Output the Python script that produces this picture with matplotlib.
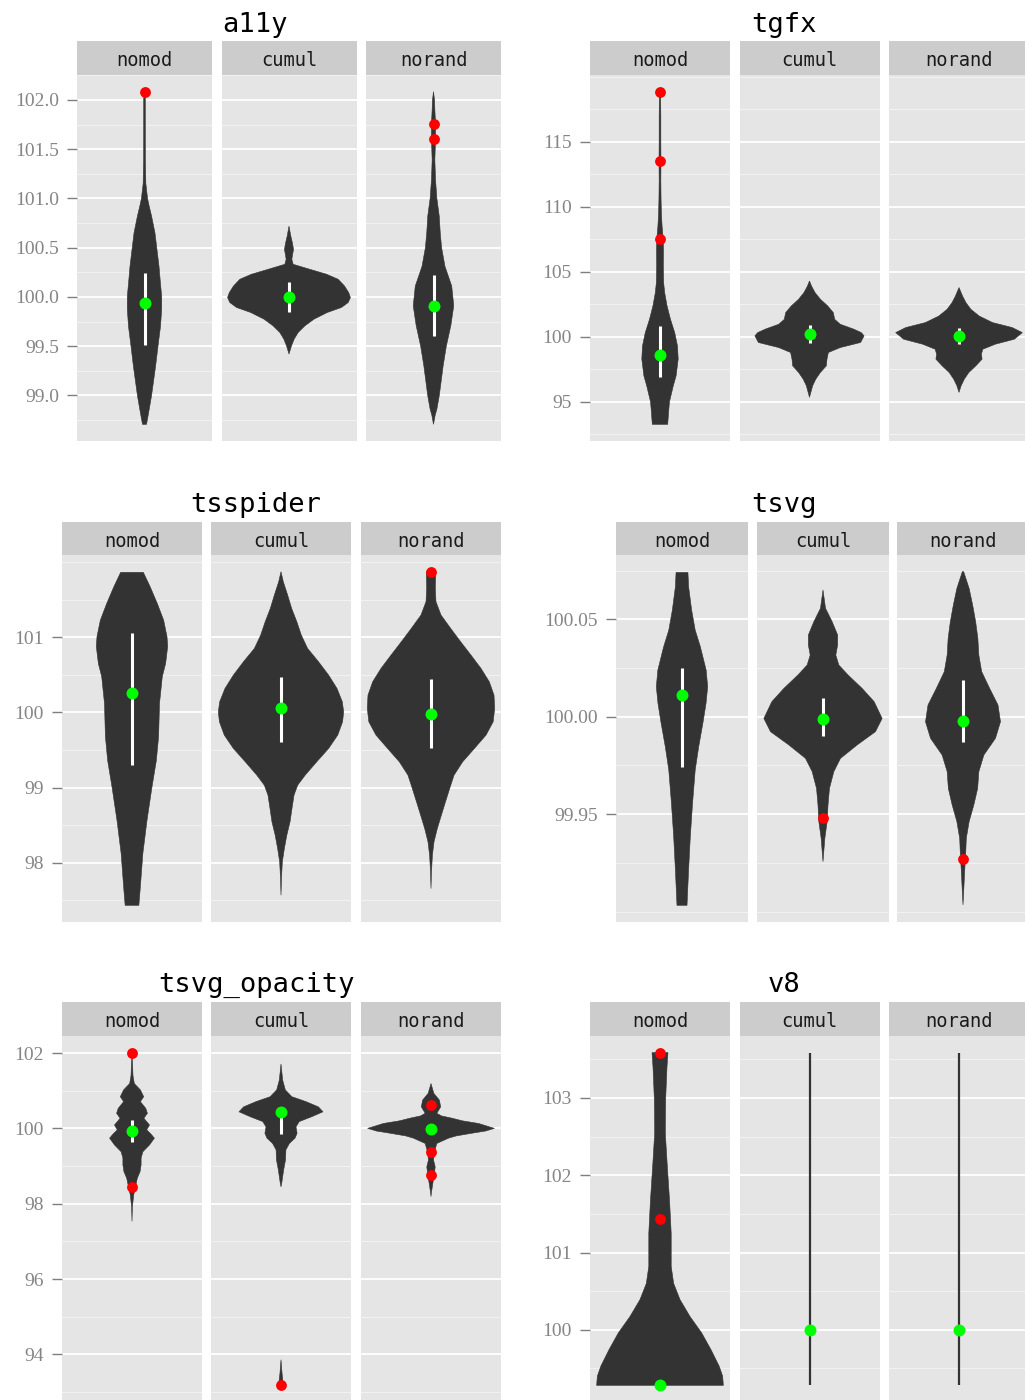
import numpy as np
import matplotlib
matplotlib.use("Agg")
import matplotlib.pyplot as plt

# ---------------------------------------------------------------- data
benchmarks = ["a11y", "tgfx", "tsspider", "tsvg", "tsvg_opacity", "v8"]
facets = ["nomod", "cumul", "norand"]

# violin outlines: (value, half-width as a fraction of the facet half-width)
a11y_nomod_profile = [(98.706, 0.03), (98.84, 0.065), (99.0, 0.105), (99.15, 0.135), (99.30, 0.165),
                      (99.50, 0.20), (99.70, 0.237), (99.88, 0.255), (100.0, 0.255), (100.15, 0.235),
                      (100.31, 0.215), (100.48, 0.185), (100.65, 0.155), (100.82, 0.105), (100.92, 0.07),
                      (101.0, 0.045), (101.15, 0.02), (101.4, 0.013), (101.8, 0.012), (102.0, 0.012),
                      (102.084, 0.006)]
a11y_cumul_profile = [(99.42, 0.0), (99.504, 0.037), (99.572, 0.077), (99.639, 0.136), (99.706, 0.235),
                      (99.774, 0.37), (99.842, 0.568), (99.893, 0.778), (99.943, 0.877), (99.994, 0.91),
                      (100.044, 0.884), (100.111, 0.822), (100.179, 0.728), (100.23, 0.556),
                      (100.28, 0.31), (100.331, 0.062), (100.382, 0.042), (100.432, 0.054),
                      (100.483, 0.067), (100.55, 0.05), (100.617, 0.027), (100.719, 0.0)]
a11y_norand_profile = [(98.706, 0.0), (98.80, 0.025), (98.86, 0.05), (99.0, 0.086), (99.30, 0.143),
                       (99.50, 0.19), (99.71, 0.257), (99.91, 0.30), (100.11, 0.27), (100.31, 0.17),
                       (100.50, 0.12), (100.65, 0.10), (100.82, 0.085), (101.0, 0.05), (101.19, 0.03),
                       (101.39, 0.02), (101.60, 0.03), (101.76, 0.03), (101.90, 0.02), (102.0, 0.015),
                       (102.084, 0.0)]

tgfx_nomod_profile = [(93.27, 0.11), (94.0, 0.12), (95.0, 0.135), (96.24, 0.19), (97.0, 0.23),
                      (98.3, 0.26), (99.3, 0.25), (100.33, 0.21), (101.35, 0.15), (102.4, 0.10),
                      (103.4, 0.067), (104.17, 0.052), (105.45, 0.048), (106.7, 0.05), (107.6, 0.045),
                      (108.5, 0.03), (109.5, 0.02), (110.6, 0.015), (112.0, 0.012), (113.5, 0.014),
                      (115.0, 0.012), (117.0, 0.012), (118.87, 0.008)]
tgfx_cumul_profile = [(95.35, 0.0), (96.24, 0.045), (96.75, 0.09), (97.26, 0.155), (97.77, 0.24),
                      (98.29, 0.25), (98.80, 0.27), (99.18, 0.44), (99.57, 0.73), (100.08, 0.78),
                      (100.33, 0.74), (100.60, 0.63), (100.97, 0.44), (101.35, 0.36), (101.87, 0.34),
                      (102.38, 0.26), (102.90, 0.155), (103.40, 0.08), (103.90, 0.03), (104.30, 0.0)]
tgfx_norand_profile = [(95.73, 0.0), (96.24, 0.03), (96.75, 0.076), (97.26, 0.14), (97.77, 0.24),
                       (98.29, 0.33), (98.67, 0.32), (99.05, 0.34), (99.44, 0.52), (99.82, 0.79),
                       (100.33, 0.905), (100.72, 0.76), (101.10, 0.48), (101.60, 0.29), (102.12, 0.17),
                       (102.63, 0.10), (103.15, 0.05), (103.80, 0.0)]

tsspider_nomod_profile = [(97.43, 0.098), (97.67, 0.119), (98.12, 0.155), (98.56, 0.214), (99.01, 0.286),
                          (99.36, 0.348), (99.68, 0.38), (100.12, 0.393), (100.48, 0.433), (100.65, 0.48),
                          (100.88, 0.51), (101.01, 0.50), (101.23, 0.452), (101.45, 0.362),
                          (101.68, 0.257), (101.867, 0.162)]
tsspider_cumul_profile = [(97.564, 0.0), (97.787, 0.007), (98.009, 0.019), (98.187, 0.048), (98.364, 0.083),
                          (98.542, 0.129), (98.72, 0.157), (98.898, 0.186), (99.031, 0.238),
                          (99.164, 0.345), (99.342, 0.51), (99.52, 0.68), (99.698, 0.81), (99.876, 0.88),
                          (100.009, 0.895), (100.142, 0.876), (100.32, 0.80), (100.498, 0.68),
                          (100.676, 0.536), (100.853, 0.38), (101.031, 0.29), (101.209, 0.226),
                          (101.387, 0.152), (101.564, 0.095), (101.742, 0.033), (101.876, 0.0)]
tsspider_norand_profile = [(97.653, 0.0), (97.876, 0.007), (98.098, 0.02), (98.276, 0.043), (98.453, 0.09),
                           (98.631, 0.148), (98.809, 0.207), (98.987, 0.267), (99.164, 0.329),
                           (99.342, 0.452), (99.52, 0.62), (99.698, 0.786), (99.876, 0.888),
                           (100.053, 0.91), (100.231, 0.90), (100.409, 0.833), (100.587, 0.714),
                           (100.764, 0.571), (100.942, 0.424), (101.12, 0.281), (101.298, 0.143),
                           (101.476, 0.071), (101.653, 0.062), (101.876, 0.067)]

tsvg_nomod_profile = [(99.9032, 0.076), (99.9214, 0.10), (99.9385, 0.126), (99.9556, 0.16),
                      (99.9726, 0.20), (99.9846, 0.253), (99.9966, 0.316), (100.0068, 0.364),
                      (100.0154, 0.389), (100.0239, 0.366), (100.0359, 0.278), (100.0444, 0.20),
                      (100.0547, 0.146), (100.0667, 0.10), (100.074, 0.09)]
tsvg_cumul_profile = [(99.9256, 0.0), (99.9376, 0.028), (99.9462, 0.063), (99.9547, 0.076),
                      (99.9632, 0.098), (99.9718, 0.164), (99.9786, 0.265), (99.9855, 0.518),
                      (99.9923, 0.795), (99.9991, 0.896), (100.0077, 0.775), (100.0145, 0.593),
                      (100.0214, 0.379), (100.0265, 0.24), (100.0316, 0.194), (100.0368, 0.222),
                      (100.0419, 0.222), (100.0487, 0.139), (100.0556, 0.038), (100.065, 0.0)]
tsvg_norand_profile = [(99.9034, 0.0), (99.912, 0.013), (99.9205, 0.025), (99.9291, 0.04),
                       (99.9376, 0.05), (99.9462, 0.093), (99.9547, 0.164), (99.9632, 0.222),
                       (99.9718, 0.24), (99.9803, 0.316), (99.9889, 0.492), (99.9974, 0.568),
                       (100.006, 0.53), (100.0145, 0.404), (100.0231, 0.283), (100.0316, 0.24),
                       (100.0402, 0.225), (100.0487, 0.192), (100.0573, 0.146), (100.0658, 0.093),
                       (100.0744, 0.01)]

tsvg_opacity_nomod_profile = [(97.53, 0.0), (97.92, 0.006), (98.23, 0.024), (98.45, 0.05), (98.68, 0.076),
                              (98.85, 0.115), (99.03, 0.13), (99.21, 0.13), (99.38, 0.155), (99.56, 0.25),
                              (99.74, 0.32), (99.85, 0.27), (99.96, 0.21), (100.09, 0.25), (100.20, 0.20),
                              (100.27, 0.17), (100.40, 0.22), (100.53, 0.197), (100.71, 0.12),
                              (100.84, 0.167), (101.02, 0.12), (101.19, 0.033), (101.40, 0.014),
                              (101.72, 0.008), (102.01, 0.0)]
tsvg_opacity_cumul_profile = [(93.18, 0.03), (93.25, 0.03), (93.50, 0.015), (93.86, 0.0), (98.45, 0.0),
                              (98.54, 0.01), (98.90, 0.038), (99.17, 0.065), (99.43, 0.07), (99.60, 0.12),
                              (99.74, 0.20), (99.87, 0.23), (100.04, 0.214), (100.18, 0.26),
                              (100.31, 0.44), (100.44, 0.60), (100.57, 0.535), (100.71, 0.357),
                              (100.84, 0.155), (101.02, 0.062), (101.28, 0.024), (101.71, 0.0)]
tsvg_opacity_norand_profile = [(98.19, 0.0), (98.28, 0.005), (98.54, 0.026), (98.76, 0.045), (98.98, 0.06),
                               (99.16, 0.036), (99.38, 0.05), (99.60, 0.083), (99.74, 0.25), (99.80, 0.36),
                               (99.87, 0.58), (99.93, 0.78), (100.0, 0.905), (100.06, 0.80),
                               (100.13, 0.68), (100.20, 0.45), (100.27, 0.30), (100.33, 0.15),
                               (100.40, 0.083), (100.57, 0.138), (100.75, 0.12), (100.93, 0.04),
                               (101.19, 0.0)]

v8_nomod_profile = [(99.281, 0.905), (99.40, 0.895), (99.53, 0.845), (99.74, 0.73), (99.96, 0.595),
                    (100.17, 0.43), (100.39, 0.286), (100.60, 0.195), (100.82, 0.16), (101.25, 0.16),
                    (101.68, 0.136), (102.11, 0.105), (102.54, 0.076), (102.97, 0.08), (103.40, 0.10),
                    (103.586, 0.114)]
v8_cumul_profile = [(99.281, 0.0), (103.586, 0.0)]
v8_norand_profile = [(99.281, 0.0), (103.586, 0.0)]

# medians (green), inter-quartile bars (white), outliers (red) per facet
a11y_median = [99.94, 100.0, 99.91]
a11y_q_lo = [99.51, 99.85, 99.60]
a11y_q_hi = [100.24, 100.15, 100.22]
a11y_outliers = [[102.08], [], [101.76, 101.60]]

tgfx_median = [98.6, 100.26, 100.08]
tgfx_q_lo = [96.88, 99.51, 99.44]
tgfx_q_hi = [100.84, 100.9, 100.72]
tgfx_outliers = [[118.87, 113.5, 107.55], [], []]

tsspider_median = [100.26, 100.06, 99.98]
tsspider_q_lo = [99.30, 99.60, 99.52]
tsspider_q_hi = [101.06, 100.47, 100.45]
tsspider_outliers = [[], [], [101.867]]

tsvg_median = [100.011, 99.9986, 99.998]
tsvg_q_lo = [99.974, 99.990, 99.987]
tsvg_q_hi = [100.025, 100.0096, 100.019]
tsvg_outliers = [[], [99.948], [99.927]]

tsvg_opacity_median = [99.94, 100.43, 99.99]
tsvg_opacity_q_lo = [99.65, 99.84, 99.99]
tsvg_opacity_q_hi = [100.22, 100.42, 99.99]
tsvg_opacity_outliers = [[102.01, 98.45], [93.18], [100.62, 99.38, 98.76]]

v8_median = [99.281, 100.0, 100.0]
v8_q_lo = [99.281, 100.0, 100.0]
v8_q_hi = [99.281, 100.0, 100.0]
v8_outliers = [[103.586, 101.43], [], []]

# axis ticks
a11y_ticks = [99.0, 99.5, 100.0, 100.5, 101.0, 101.5, 102.0]
a11y_minor = [98.75, 99.25, 99.75, 100.25, 100.75, 101.25, 101.75, 102.25]
tgfx_ticks = [95, 100, 105, 110, 115]
tgfx_minor = [92.5, 97.5, 102.5, 107.5, 112.5, 117.5, 120]
tsspider_ticks = [98, 99, 100, 101]
tsspider_minor = [97.5, 98.5, 99.5, 100.5, 101.5, 102]
tsvg_ticks = [99.95, 100.00, 100.05]
tsvg_minor = [99.90, 99.925, 99.975, 100.025, 100.075]
tsvg_opacity_ticks = [94, 96, 98, 100, 102]
tsvg_opacity_minor = [93, 95, 97, 99, 101]
v8_ticks = [100, 101, 102, 103]
v8_minor = [99.5, 100.5, 101.5, 102.5, 103.5]

tick_formats = {"a11y": "{:.1f}", "tgfx": "{:.0f}", "tsspider": "{:.0f}",
                "tsvg": "{:.2f}", "tsvg_opacity": "{:.0f}", "v8": "{:.0f}"}

G = globals()

# ---------------------------------------------------------------- layout (pixels)
W, H = 1025, 1400
cols_left_a = [(77, 212), (221.5, 356.5), (366, 501)]
cols_right_a = [(590, 730), (739.5, 879.5), (889, 1029)]
cols_left_b = [(62, 202), (211, 351), (361, 501)]
cols_right_b = [(616, 748), (757, 889), (897, 1029)]
layout = {
    "a11y": dict(title=(255, 32), strip=(41, 75), bottom=441, cols=cols_left_a),
    "tgfx": dict(title=(784, 32), strip=(41, 75), bottom=441, cols=cols_right_a),
    "tsspider": dict(title=(256, 512), strip=(522, 555), bottom=922, cols=cols_left_b),
    "tsvg": dict(title=(784, 512), strip=(522, 555), bottom=922, cols=cols_right_b),
    "tsvg_opacity": dict(title=(256, 992), strip=(1002, 1036), bottom=1402, cols=cols_left_b),
    "v8": dict(title=(784, 992), strip=(1002, 1036), bottom=1402, cols=cols_right_a),
}

DARK = "#333333"
PANEL = "#E5E5E5"
STRIP = "#CCCCCC"
GREY50 = "#7F7F7F"
MONO = ["DejaVu Sans Mono"]
SERIF = ["Liberation Serif", "DejaVu Serif"]


def rect(x0, y0, x1, y1):
    return [x0 / W, 1 - y1 / H, (x1 - x0) / W, (y1 - y0) / H]


fig = plt.figure(figsize=(W / 100, H / 100), dpi=100)
fig.patch.set_facecolor("white")


def draw_violin(ax, profile):
    ys = np.array([p[0] for p in profile])
    ws = np.array([p[1] for p in profile])
    if ws.max() == 0:
        ax.plot([0, 0], [ys.min(), ys.max()], color=DARK, lw=1.6,
                solid_capstyle="butt", zorder=2)
        return
    # split into separate pieces where the density is zero over a stretch
    pieces, cur = [], [0]
    for k in range(1, len(ys)):
        if ws[k] == 0 and ws[k - 1] == 0:
            pieces.append(cur)
            cur = [k]
        else:
            cur.append(k)
    pieces.append(cur)
    for idx in pieces:
        if len(idx) < 2:
            continue
        y = ys[idx]
        w = ws[idx]
        xs = np.concatenate([-w, w[::-1]])
        yy = np.concatenate([y, y[::-1]])
        ax.fill(xs, yy, facecolor=DARK, edgecolor=DARK, lw=0.4, zorder=2)


for b in benchmarks:
    lay = layout[b]
    profiles = [G[f"{b}_{f}_profile"] for f in facets]
    med = G[f"{b}_median"]
    qlo = G[f"{b}_q_lo"]
    qhi = G[f"{b}_q_hi"]
    outl = G[f"{b}_outliers"]
    ticks = G[f"{b}_ticks"]
    minor = G[f"{b}_minor"]

    allv = [p[0] for pr in profiles for p in pr] + [v for o in outl for v in o]
    lo, hi = min(allv), max(allv)
    pad = 0.05 * (hi - lo)
    ylim = (lo - pad, hi + pad)

    s0, s1 = lay["strip"]
    for i, f in enumerate(facets):
        x0, x1 = lay["cols"][i]
        ax = fig.add_axes(rect(x0, s1, x1, lay["bottom"]))
        ax.set_facecolor(PANEL)
        for sp in ax.spines.values():
            sp.set_visible(False)
        ax.set_xlim(-1, 1)
        ax.set_ylim(*ylim)
        ax.set_xticks([])
        ax.set_yticks(ticks)
        ax.set_yticks(minor, minor=True)
        ax.set_axisbelow(True)
        ax.grid(which="major", axis="y", color="white", lw=1.3)
        ax.grid(which="minor", axis="y", color="#F2F2F2", lw=0.7)
        if i == 0:
            ax.set_yticklabels([tick_formats[b].format(t) for t in ticks],
                               family=SERIF, fontsize=14, color="#858585")
            ax.tick_params(axis="y", which="major", length=7, width=1.0,
                           color=GREY50, pad=6)
            ax.tick_params(axis="y", which="minor", length=0)
        else:
            ax.tick_params(axis="y", which="both", length=0, labelleft=False)

        draw_violin(ax, profiles[i])
        if qhi[i] > qlo[i]:
            ax.plot([0, 0], [qlo[i], qhi[i]], color="white", lw=2.2,
                    solid_capstyle="butt", zorder=3)
        ax.plot([0], [med[i]], "o", color="#00FF00", ms=8.6, mec="none", zorder=4)
        if outl[i]:
            ax.plot([0] * len(outl[i]), outl[i], "o", color="#FF0000", ms=7.8,
                    mec="none", zorder=5, linestyle="none")

        sax = fig.add_axes(rect(x0, s0, x1, s1))
        sax.set_facecolor(STRIP)
        sax.set_xticks([])
        sax.set_yticks([])
        for sp in sax.spines.values():
            sp.set_visible(False)
        fig.text((x0 + x1) / 2 / W, 1 - (s0 + 25) / H, f, family=MONO,
                 fontsize=13.5, color="#1A1A1A", ha="center", va="baseline")

    tx, ty = lay["title"]
    fig.text(tx / W, 1 - ty / H, b, family=MONO, fontsize=19.5,
             color="black", ha="center", va="baseline")

fig.savefig("out.png", dpi=100, facecolor="white")
